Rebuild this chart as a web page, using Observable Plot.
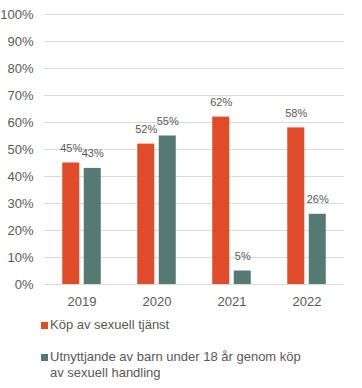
<!DOCTYPE html>
<html>
<head>
<meta charset="utf-8">
<script src="https://cdn.jsdelivr.net/npm/d3@7"></script>
<script src="https://cdn.jsdelivr.net/npm/@observablehq/plot@0.6"></script>
<style>
  body { margin: 0; background: #fff; font-family: "Liberation Sans", Arial, sans-serif; }
  #legend { margin-left: 41px; color: #595959; font-size: 13px; line-height: 16px; }
  .item { display: flex; align-items: flex-start; }
  .sw { width: 7px; height: 7px; margin-top: 5px; margin-right: 2px; flex: none; }
  .lab { width: 256px; }
</style>
</head>
<body>
<div id="chart"></div>
<div id="legend"></div>
<script>
const years = ["2019", "2020", "2021", "2022"];
const kopValues = [45, 52, 62, 58];
const barnValues = [43, 55, 5, 26];
const seriesNames = [
  "Köp av sexuell tjänst",
  "Utnyttjande av barn under 18 år genom köp av sexuell handling"
];
const seriesColors = ["#E04B2A", "#557A74"];
const yTicks = [0, 0.1, 0.2, 0.3, 0.4, 0.5, 0.6, 0.7, 0.8, 0.9, 1];

const kopData = years.map((y, i) => ({year: y, value: kopValues[i] / 100}));
const barnData = years.map((y, i) => ({year: y, value: barnValues[i] / 100}));
const pct = d => `${Math.round(d.value * 100)}%`;
const off = 10.75;

const plot = Plot.plot({
  width: 362,
  height: 312,
  marginTop: 14,
  marginBottom: 28,
  marginLeft: 44,
  marginRight: 18,
  style: {fontFamily: "'Liberation Sans', Arial, sans-serif", fontSize: "13px", color: "#595959", background: "#fff"},
  x: {domain: years, paddingInner: 0.773, paddingOuter: 0.3865, label: null, tickSize: 0, tickPadding: 12},
  y: {domain: [0, 1], ticks: yTicks, tickFormat: d3.format(".0%"), label: null, tickSize: 0, tickPadding: 11},
  marks: [
    Plot.gridY(yTicks, {stroke: "#d9d9d9", strokeOpacity: 1, strokeWidth: 1}),
    Plot.barY(kopData, {x: "year", y: "value", fill: seriesColors[0], dx: -off}),
    Plot.barY(barnData, {x: "year", y: "value", fill: seriesColors[1], dx: off}),
    Plot.text(kopData, {x: "year", y: "value", text: pct, dx: -off, dy: -14.5, fill: "#595959", fontSize: 11}),
    Plot.text(barnData, {x: "year", y: "value", text: pct, dx: off, dy: -14.5, fill: "#595959", fontSize: 11})
  ]
});
document.getElementById("chart").appendChild(plot);

const legend = document.getElementById("legend");
legend.style.marginTop = "5px";
seriesNames.forEach((name, i) => {
  const item = document.createElement("div");
  item.className = "item";
  if (i > 0) item.style.marginTop = "16px";
  const sw = document.createElement("span");
  sw.className = "sw";
  sw.style.background = seriesColors[i];
  const lab = document.createElement("span");
  lab.className = "lab";
  lab.textContent = name;
  item.appendChild(sw);
  item.appendChild(lab);
  legend.appendChild(item);
});
</script>
</body>
</html>
